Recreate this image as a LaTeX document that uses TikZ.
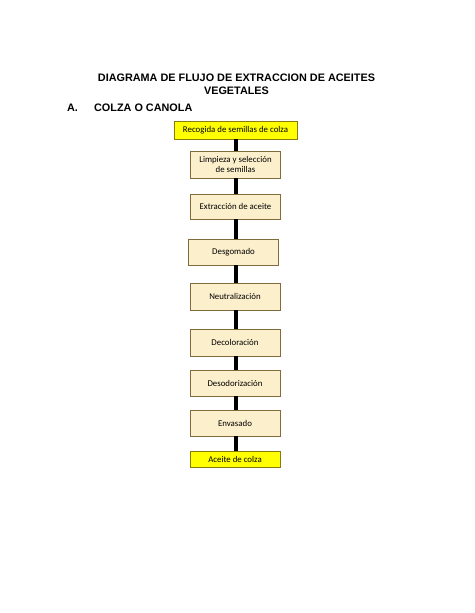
\documentclass[tikz,border=0pt]{standalone}
\usepackage{fontspec}
\setmainfont{Liberation Sans}
\newfontfamily\boxfont{Carlito}
\definecolor{cream}{HTML}{FCEFCB}
\definecolor{creamborder}{HTML}{7F6B3C}
\definecolor{ybox}{HTML}{FFFF00}
\definecolor{yborder}{HTML}{8A7A10}
\begin{document}
\begin{tikzpicture}[x=1.2911pt,y=-1.2911pt,
  titletext/.style={font=\fontsize{14}{16}\selectfont\bfseries, inner sep=0pt},
  stepbox/.style={draw=creamborder, fill=cream, line width=1pt, minimum width=116pt, font=\boxfont\fontsize{11.4}{14}\selectfont, align=center, inner sep=1pt},
  endbox/.style={draw=yborder, fill=ybox, line width=1pt, font=\boxfont\fontsize{11.4}{14}\selectfont, inner sep=1pt},
  link/.style={line width=4.2pt, black}]
\useasboundingbox (0,0) rectangle (474,613);
\fill[white] (0,0) rectangle (474,613);
\node[titletext] (t1) at (236.5,78) {DIAGRAMA DE FLUJO DE EXTRACCION DE ACEITES};
\node[titletext] (t2) at (236.5,91) {VEGETALES};
\node[titletext, anchor=west] (ha) at (67,108) {A.};
\node[titletext, anchor=west] (hb) at (94,108) {COLZA O CANOLA};

\node[endbox, minimum width=158.8pt, minimum height=23.2pt] (n1) at (235.5,130) {Recogida de semillas de colza};
\node[stepbox, minimum height=34.9pt] (n2) at (235.5,164.5) {Limpieza y selección\\de semillas};
\node[stepbox, minimum height=32.3pt] (n3) at (235.5,206.5) {Extracción de aceite};
\node[stepbox, minimum height=33.6pt] (n4) at (233.5,252) {Desgomado};
\node[stepbox, minimum height=34.9pt] (n5) at (235,296.5) {Neutralización};
\node[stepbox, minimum height=34.9pt] (n6) at (235,342.5) {Decoloración};
\node[stepbox, minimum height=33.6pt] (n7) at (235,383) {Desodorización};
\node[stepbox, minimum height=33.6pt] (n8) at (235,423) {Envasado};
\node[endbox, minimum width=116pt, minimum height=20.7pt] (n9) at (235,459) {Aceite de colza};

\foreach \a/\b in {n1/n2,n2/n3,n3/n4,n4/n5,n5/n6,n6/n7,n7/n8,n8/n9}{
  \draw[link] (\a.south -| 236,0) -- (\b.north -| 236,0);
}
\end{tikzpicture}
\end{document}
